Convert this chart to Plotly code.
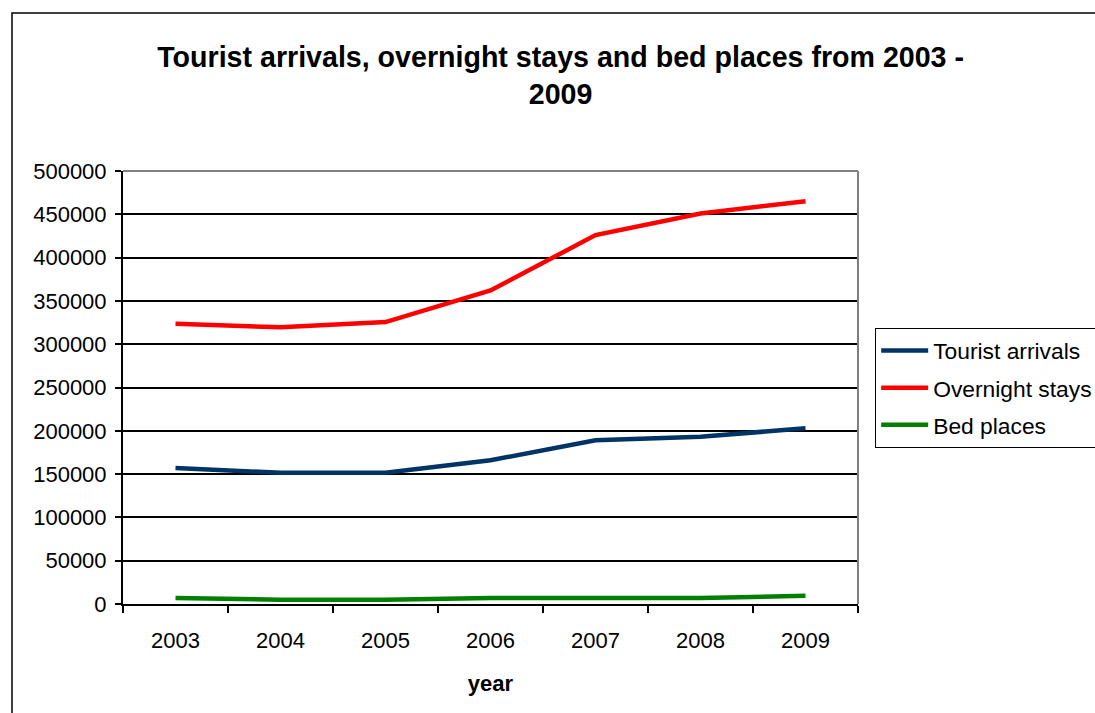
import plotly.graph_objects as go

years = ["2003", "2004", "2005", "2006", "2007", "2008", "2009"]
tourist_arrivals = [157000, 151500, 151500, 166000, 189000, 193000, 203000]
overnight_stays = [323500, 319500, 325500, 362000, 426000, 451000, 465000]
bed_places = [7000, 5000, 5000, 7000, 7000, 7000, 9500]

series = [
    ("Tourist arrivals", tourist_arrivals, "#003366"),
    ("Overnight stays", overnight_stays, "#FF0000"),
    ("Bed places", bed_places, "#008000"),
]

FONT = "Liberation Sans, Arial, sans-serif"

fig = go.Figure()
for i, (name, vals, color) in enumerate(series):
    fig.add_trace(go.Scatter(
        x=years, y=vals, name=name, mode="lines",
        line=dict(color=color, width=4.5),
        legendgroup=f"g{i}",
    ))

fig.update_layout(
    width=1095, height=713, autosize=False,
    margin=dict(l=123, r=237, t=171, b=109, autoexpand=False),
    paper_bgcolor="white", plot_bgcolor="white",
    font=dict(family=FONT, color="black", size=22),
    title=dict(
        text="<b>Tourist arrivals, overnight stays and bed places from 2003 -<br>2009</b>",
        x=0.512, xanchor="center", xref="container",
        y=0.906, yanchor="top", yref="container",
        font=dict(size=28.6, family=FONT, color="black"),
    ),
    showlegend=True,
    legend=dict(
        x=1.0231, xanchor="left", y=0.6374, yanchor="top",
        bgcolor="white", bordercolor="black", borderwidth=1.2,
        font=dict(size=22.8, family=FONT, color="black"),
        traceorder="grouped", tracegroupgap=4.5,
        itemwidth=47,
    ),
)

fig.update_xaxes(
    type="category", range=[-0.5, 6.5], automargin=False,
    tickson="boundaries", ticks="outside", ticklen=7, tickwidth=1.5, tickcolor="black",
    showline=True, linecolor="black", linewidth=2,
    showgrid=False, zeroline=False,
    tickfont=dict(size=22, family=FONT, color="black"),
    ticklabelstandoff=16,
    title=dict(text="<b>year</b>", font=dict(size=22, family=FONT, color="black"), standoff=23),
)
fig.update_yaxes(
    range=[0, 500000], dtick=50000, tick0=0, automargin=False,
    ticks="outside", ticklen=6, tickwidth=1.5, tickcolor="black",
    showline=True, linecolor="black", linewidth=2,
    showgrid=True, gridcolor="black", gridwidth=1.5,
    zeroline=False,
    tickformat="d",
    tickfont=dict(size=22, family=FONT, color="black"),
    ticklabelstandoff=4,
)

# gray top and right borders of the plot area
fig.add_shape(type="line", xref="paper", yref="paper", x0=0, x1=1, y0=1, y1=1,
              line=dict(color="#808080", width=2), layer="above")
fig.add_shape(type="line", xref="paper", yref="paper", x0=1, x1=1, y0=0, y1=1,
              line=dict(color="#808080", width=2), layer="above")
# outer chart frame
fig.add_shape(type="rect", xref="paper", yref="paper",
              x0=(12 - 123) / 735, x1=2.0, y0=-1.0, y1=(604 - 13) / 433,
              line=dict(color="black", width=1.5), fillcolor="rgba(0,0,0,0)", layer="below")

fig.write_html("out.html", config={"displayModeBar": False},
               post_script="document.body.style.margin='0';")
